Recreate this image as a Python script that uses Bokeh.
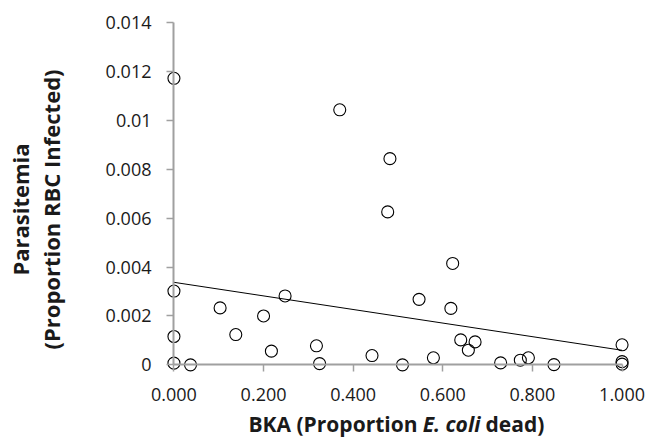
import numpy as np
from bokeh.plotting import figure
from bokeh.models import Range1d, FixedTicker, Label, LinearAxis
from bokeh.embed import file_html
from bokeh.resources import INLINE

# ---- data ----
bka = [0.477, 0.622, 0.000, 0.248, 0.103, 0.547, 0.618, 0.200, 0.000, 0.138,
       0.2175, 0.318, 0.640, 0.672, 0.657, 0.442, 0.579, 1.000, 1.000, 1.000,
       0.000, 0.037, 0.325, 0.510, 0.729, 0.773, 0.791, 0.848, 0.000, 0.370,
       0.482]
parasitemia = [0.00626, 0.00415, 0.00302, 0.00282, 0.00233, 0.00268, 0.00231,
               0.00200, 0.00116, 0.00124, 0.00056, 0.00078, 0.00102, 0.00094,
               0.00060, 0.00038, 0.00029, 0.00082, 0.00013, 0.00003, 0.00007,
               0.00000, 0.00005, 0.00000, 0.00008, 0.00019, 0.00029, 0.00001,
               0.01173, 0.01044, 0.00844]

x_ticks = [0.0, 0.2, 0.4, 0.6, 0.8, 1.0]
x_tick_labels = ["0.000", "0.200", "0.400", "0.600", "0.800", "1.000"]
y_ticks = [0.0, 0.002, 0.004, 0.006, 0.008, 0.010, 0.012, 0.014]
y_tick_labels = ["0", "0.002", "0.004", "0.006", "0.008", "0.01", "0.012", "0.014"]

x_label_parts = ["BKA (Proportion", "E. coli", "dead)"]
y_label_lines = ["Parasitemia", "(Proportion RBC Infected)"]

# ---- layout ----
XS, XE = -0.03, 1.03
YS, YE = -0.0006, 0.0143
BL, BR, BT, BB = 160, 25, 15, 59
FW, FH = 475, 364
FONT = "Open Sans"
TXT = "#1a1a1a"
AX = "#a0a0a0"


def px2x(page_x):
    return XS + (page_x - BL) / FW * (XE - XS)


def py2y(page_y):
    return YE - (page_y - BT) / FH * (YE - YS)


p = figure(frame_width=FW, frame_height=FH,
           x_range=Range1d(XS, XE), y_range=Range1d(YS, YE),
           min_border_left=BL, min_border_right=BR,
           min_border_top=BT, min_border_bottom=BB,
           output_backend="svg", toolbar_location=None)
p.outline_line_color = None
p.xgrid.visible = False
p.ygrid.visible = False
p.background_fill_color = "white"
p.border_fill_color = "white"

# edge axes: carry the tick labels only
for ax in (p.xaxis[0], p.yaxis[0]):
    ax.axis_line_color = None
    ax.major_tick_line_color = None
    ax.minor_tick_line_color = None
    ax.major_tick_out = 0
    ax.major_tick_in = 0
    ax.major_label_text_font = FONT
    ax.major_label_text_font_size = "18px"
    ax.major_label_text_color = TXT

p.xaxis[0].ticker = FixedTicker(ticks=x_ticks)
p.xaxis[0].major_label_overrides = dict(zip(x_ticks, x_tick_labels))
p.xaxis[0].major_label_standoff = 8
p.yaxis[0].ticker = FixedTicker(ticks=y_ticks)
p.yaxis[0].major_label_overrides = dict(zip(y_ticks, y_tick_labels))
p.yaxis[0].major_label_standoff = 9

# axes through the origin: line + ticks
def origin_axis(ticks, bounds):
    a = LinearAxis(ticker=FixedTicker(ticks=ticks), fixed_location=0, bounds=bounds)
    a.axis_line_color = AX
    a.axis_line_width = 2
    a.major_tick_line_color = AX
    a.major_tick_line_width = 1.5
    a.major_tick_out = 7
    a.major_tick_in = 0
    a.minor_tick_line_color = None
    a.major_label_text_font_size = "0px"
    a.major_label_text_alpha = 0
    return a

p.add_layout(origin_axis(x_ticks, (0, 1)), "below")
p.add_layout(origin_axis(y_ticks, (0, 0.014)), "left")

# linear trend line (least squares)
slope, intercept = np.polyfit(bka, parasitemia, 1)
tx = np.array([0.0, 1.0])
p.line(tx, intercept + slope * tx, line_color="black", line_width=1)

p.scatter(bka, parasitemia, marker="circle", size=12,
          fill_alpha=0, line_color="black", line_width=1.1)

# axis titles
base_y = py2y(423)
common = dict(text_font=FONT, text_color=TXT, text_baseline="alphabetic",
              text_font_style="bold")
p.add_layout(Label(x=px2x(417), y=base_y, text=x_label_parts[0], text_font_size="21px",
                   text_align="right", **common), "below")
common_it = dict(common, text_font_style="bold italic")
p.add_layout(Label(x=px2x(451), y=base_y, text=x_label_parts[1], text_font_size="21px",
                   text_align="center", **common_it), "below")
p.add_layout(Label(x=px2x(485), y=base_y, text=x_label_parts[2], text_font_size="21px",
                   text_align="left", **common), "below")

for line_text, bx in zip(y_label_lines, [19, 50]):
    p.add_layout(Label(x=px2x(bx), y=py2y(209), text=line_text, angle=np.pi / 2,
                       text_font_size="22px", text_align="center", **common), "left")

open("out.html", "w").write(file_html(p, INLINE))
